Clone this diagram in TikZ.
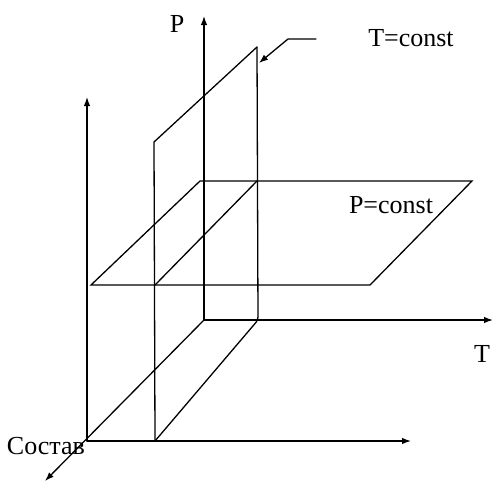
\documentclass[tikz,border=0pt]{standalone}
\usepackage{fontspec}
\setmainfont{Liberation Serif}
\usetikzlibrary{arrows.meta}
\begin{document}
\begin{tikzpicture}[x=1pt,y=-1pt,line width=1.3pt,line cap=round,
  axis/.style={-{Latex[length=9pt,width=6.5pt]}},
  lbl/.style={font=\fontsize{26}{30}\selectfont,inner sep=0pt,anchor=center}]
\useasboundingbox (0,0) rectangle (495,483);
% axes origins
\coordinate (O) at (204,320);
\coordinate (Ptip) at (204,16);
\coordinate (Ttip) at (493,320);
\coordinate (Ctip) at (45,481);
\coordinate (F) at (87,441);
\coordinate (Ftop) at (87,97);
\coordinate (Fright) at (411,441);
% T=const plane
\coordinate (Ta) at (155,441);
\coordinate (Tb) at (258,320);
\coordinate (Tc) at (257,47);
\coordinate (Td) at (154,142);
% P=const plane
\coordinate (Pa) at (91,285);
\coordinate (Pb) at (370,285);
\coordinate (Pc) at (472,181);
\coordinate (Pd) at (200,181);
\coordinate (Pe) at (155,285);
\coordinate (Pf) at (257,181);
% callout
\coordinate (Ca) at (316,39);
\coordinate (Cb) at (288,39);
\coordinate (Cc) at (259,63);

% back axes
\draw[axis] (O) -- (Ptip);
\draw[axis] (O) -- (Ttip);
\draw[axis] (O) -- (Ctip);
% front axes
\draw[axis] (F) -- (Ftop);
\draw[axis] (F) -- (Fright);
% T=const plane
\draw[line join=miter] (Tc) -- (Td) -- (Ta);
\draw[rounded corners=3pt] (Ta) -- (Tb) -- (Tc);
% P=const plane
\draw[line join=miter] (Pa) -- (Pb) -- (Pc) -- (Pd) -- cycle;
\draw (Pe) -- (Pf);
% callout arrow
\draw[-{Latex[length=9pt,width=6.5pt]}] (Ca) -- (Cb) -- (Cc);

% labels
\node[lbl] (lP) at (177,24) {P};
\node[lbl] (lT) at (482,354) {T};
\node[lbl] (lTc) at (411,38) {T=const};
\node[lbl] (lPc) at (391,205) {P=const};
\node[lbl] (lC) at (46,446) {Состав};
\end{tikzpicture}
\end{document}
